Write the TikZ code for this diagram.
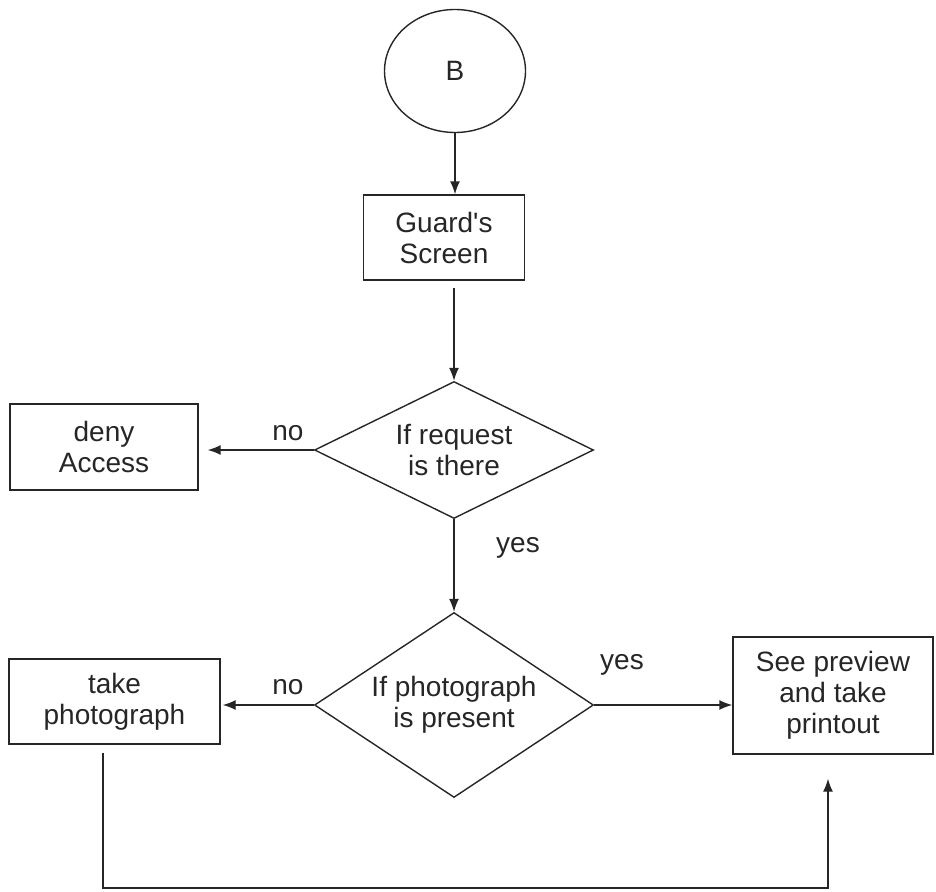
\documentclass[tikz,border=0pt]{standalone}
\usepackage{fontspec}
\setmainfont{Liberation Sans}
\usepackage{tikz}
\usetikzlibrary{arrows.meta, shapes.geometric, positioning}
\tikzstyle{terminal}=[ellipse, draw, line width=1.4pt, minimum width=141pt, minimum height=123pt, inner sep=0pt]
\tikzstyle{process}=[rectangle, draw, line width=1.4pt, align=center, inner sep=0pt]
\tikzstyle{decision}=[diamond, draw, line width=1.4pt, align=center, inner sep=0pt, shape aspect=1.5, minimum width=279pt]
\tikzstyle{flow}=[line width=1.4pt, -{Latex[length=13pt,width=10pt]}]

\begin{document}
\begin{tikzpicture}[x=1pt, y=-1pt, font=\fontsize{28}{31}\selectfont, color=black!85]
      \useasboundingbox (0,0) rectangle (936,891);
      \node[terminal] (b) at (455,71) {B};
      \node[process, minimum width=161pt, minimum height=85pt] (guard) at (444,237.5) {Guard\textquotesingle s\\Screen};
      \node[decision, minimum height=137pt] (req) at (454,450) {If request\\is there};
      \node[process, minimum width=188pt, minimum height=86pt] (deny) at (104,447) {deny\\Access};
      \node[decision, minimum height=185pt] (photo) at (454,705) {If photograph\\is present};
      \node[process, minimum width=211pt, minimum height=85pt] (take) at (114.5,701.5) {take\\photograph};
      \node[process, minimum width=200pt, minimum height=117pt] (see) at (833,695.5) {See preview\\and take\\printout};
      \coordinate (loop) at (103,888);

      \node (no1) at (288,433) {no};
      \node (yes1) at (518,548) {yes};
      \node (no2) at (288,687) {no};
      \node (yes2) at (622,665) {yes};

      \draw[flow] (b.south) -- (b.south |- guard.north);
      \draw[flow, shorten <=7pt] (guard.south -| req.north) -- (req.north);
      \draw[flow, shorten >=9pt] (req.west) -- (req.west -| deny.east);
      \draw[flow] (req.south) -- (photo.north);
      \draw[flow, shorten >=2pt] (photo.west) -- (photo.west -| take.east);
      \draw[flow] (photo.east) -- (photo.east -| see.west);
      \draw[flow, shorten <=8pt, shorten >=24pt] (take.south -| loop) -- (loop) -| ([xshift=-5pt]see.south);
\end{tikzpicture}
\end{document}
